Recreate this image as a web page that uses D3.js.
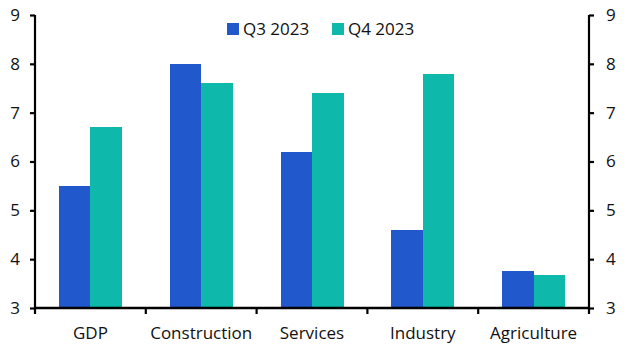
<!DOCTYPE html>
<html>
<head>
<meta charset="utf-8">
<script src="https://cdn.jsdelivr.net/npm/d3@7"></script>
<style>
  body { margin: 0; background: #fff; }
  text { font-family: "Open Sans", "Noto Sans", sans-serif; fill: #111; }
</style>
</head>
<body>
<div id="chart"></div>
<script>
const categories = ["GDP", "Construction", "Services", "Industry", "Agriculture"];
const seriesNames = ["Q3 2023", "Q4 2023"];
const q3 = [5.5, 8.0, 6.2, 4.6, 3.75];
const q4 = [6.7, 7.6, 7.4, 7.8, 3.68];
const yTicks = [3, 4, 5, 6, 7, 8, 9];
const colors = ["#2158cc", "#0eb8aa"];

const W = 633, H = 354;
const margin = { top: 15, right: 44, bottom: 46, left: 35 };
const groupWidth = 63;

const svg = d3.select("#chart").append("svg")
    .attr("width", W)
    .attr("height", H);

const x = d3.scaleBand().domain(categories).range([margin.left, W - margin.right]);
const x1 = d3.scaleBand().domain(seriesNames).range([0, groupWidth]);
const y = d3.scaleLinear().domain([3, 9]).range([H - margin.bottom, margin.top]);

const data = categories.map((c, i) => ({ cat: c, vals: [q3[i], q4[i]] }));

// bars
const groups = svg.append("g").selectAll("g")
    .data(data)
    .join("g")
    .attr("transform", d => "translate(" + (x(d.cat) + (x.bandwidth() - groupWidth) / 2) + ",0)");

groups.selectAll("rect")
    .data(d => d.vals.map((v, j) => ({ s: seriesNames[j], v: v, j: j })))
    .join("rect")
    .attr("x", d => x1(d.s))
    .attr("width", x1.bandwidth())
    .attr("y", d => y(d.v))
    .attr("height", d => y(3) - y(d.v))
    .attr("fill", d => colors[d.j])
    .attr("shape-rendering", "crispEdges");

// left + right axes
const yl = svg.append("g")
    .attr("transform", "translate(" + margin.left + ",0)")
    .call(d3.axisLeft(y).tickValues(yTicks).tickSize(5).tickPadding(10).tickFormat(d3.format("d")));
const yr = svg.append("g")
    .attr("transform", "translate(" + (W - margin.right) + ",0)")
    .call(d3.axisRight(y).tickValues(yTicks).tickSize(5).tickPadding(12).tickFormat(d3.format("d")));

[yl, yr].forEach(g => {
  g.select(".domain").attr("stroke", "#000").attr("stroke-width", 2.2)
    .attr("d", "M0," + margin.top + "V" + y(3));
  g.selectAll(".tick line").attr("stroke", "#000").attr("stroke-width", 2.2);
  g.selectAll(".tick text").style("font-size", "17px").attr("fill", "#111");
});

// x axis, ticks sit between categories
const xg = svg.append("g").attr("transform", "translate(0," + y(3) + ")");
xg.append("line")
    .attr("x1", margin.left).attr("x2", W - margin.right)
    .attr("stroke", "#000").attr("stroke-width", 2.5);
const bounds = categories.map(c => x(c)).concat([x(categories[categories.length - 1]) + x.bandwidth()]);
xg.selectAll(".bt")
    .data(bounds)
    .join("line")
    .attr("x1", d => d).attr("x2", d => d)
    .attr("y1", 0).attr("y2", 6)
    .attr("stroke", "#000").attr("stroke-width", 2.2);
xg.selectAll(".lbl")
    .data(categories)
    .join("text")
    .attr("x", d => x(d) + x.bandwidth() / 2)
    .attr("y", 31)
    .attr("text-anchor", "middle")
    .style("font-size", "17px")
    .text(d => d);

// legend
const legendPos = [227, 332];
const legend = svg.append("g");
seriesNames.forEach((s, i) => {
  legend.append("rect")
      .attr("x", legendPos[i]).attr("y", 23)
      .attr("width", 12).attr("height", 12)
      .attr("fill", colors[i]);
  legend.append("text")
      .attr("x", legendPos[i] + 16).attr("y", 35)
      .style("font-size", "17px")
      .text(s);
});
</script>
</body>
</html>
